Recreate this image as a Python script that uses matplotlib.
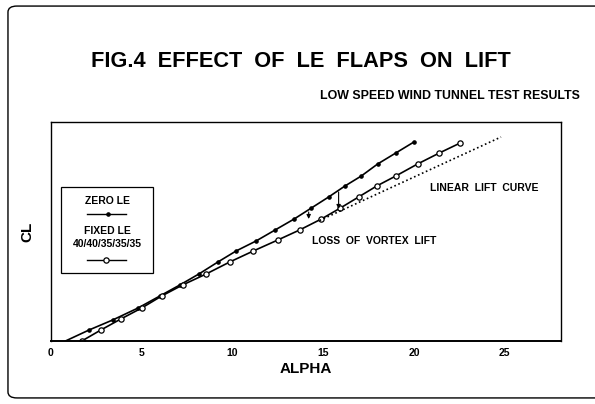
import matplotlib
matplotlib.use('Agg')
import matplotlib.pyplot as plt
from matplotlib.patches import FancyBboxPatch, Rectangle
from matplotlib.lines import Line2D

plt.rcParams['font.family'] = ['Liberation Sans', 'DejaVu Sans']
plt.rcParams['font.weight'] = 'bold'

# values (CL in arbitrary units, no scale on the original)
zero_alpha = [0.8, 2.1, 3.4, 4.8, 6.0, 7.1, 8.15, 9.2, 10.2, 11.3, 12.35,
              13.4, 14.35, 15.3, 16.2, 17.1, 18.0, 19.0, 20.0]
zero_cl = [0.0, 0.055, 0.105, 0.165, 0.225, 0.28, 0.335, 0.395, 0.45, 0.50,
           0.555, 0.61, 0.665, 0.72, 0.775, 0.825, 0.885, 0.94, 0.995]

fixed_alpha = [1.7, 2.75, 3.85, 5.0, 6.1, 7.25, 8.55, 9.85, 11.15, 12.5, 13.7,
               14.9, 15.95, 16.95, 17.95, 19.0, 20.2, 21.4, 22.55]
fixed_cl = [0.0, 0.055, 0.11, 0.165, 0.225, 0.28, 0.335, 0.395, 0.45, 0.505,
            0.555, 0.61, 0.665, 0.72, 0.775, 0.825, 0.885, 0.94, 0.99]

linear_alpha = [14.8, 24.8]
linear_cl = [0.6025, 1.02]

# vortex lift loss arrows: (alpha, from, to)
arrows = [(14.2, 0.645, 0.61), (15.85, 0.745, 0.66)]

x_ticks = [0, 5, 10, 15, 20, 25]

fig = plt.figure(figsize=(5.95, 4.04), dpi=100)
ax = fig.add_axes([0.0857, 0.156, 0.857, 0.542])

ax.plot(zero_alpha, zero_cl, color='black', lw=1.2, marker='o', ms=2.3,
        markevery=list(range(1, len(zero_alpha))))
ax.plot(fixed_alpha, fixed_cl, color='black', lw=1.2, marker='o', ms=3.8,
        mfc='white', mec='black', mew=0.9)
ax.plot(linear_alpha, linear_cl, color='black', lw=1.2, ls=(0, (1, 1.6)))

for a, y0, y1 in arrows:
    ax.annotate('', xy=(a, y1), xytext=(a, y0),
                arrowprops=dict(arrowstyle='-|>', color='black', lw=0.8,
                                mutation_scale=6, shrinkA=0, shrinkB=0))

ax.text(20.9, 0.765, 'LINEAR  LIFT  CURVE', fontsize=7.5, va='center', ha='left')
ax.text(14.4, 0.50, 'LOSS  OF  VORTEX  LIFT', fontsize=7.5, va='center', ha='left')

ax.set_xlim(0, 28.1)
ax.set_ylim(0, 1.095)
ax.set_xticks(x_ticks)
ax.set_xticklabels([str(t) for t in x_ticks], fontsize=7.5, fontweight='bold')
ax.set_yticks([])
ax.tick_params(axis='x', length=0, pad=5)
for s in ax.spines.values():
    s.set_linewidth(1.0)
ax.spines['bottom'].set_linewidth(1.4)

ax.set_xlabel('ALPHA', fontsize=11, fontweight='bold', labelpad=3)
ax.set_ylabel('CL', fontsize=11, fontweight='bold', labelpad=12)

# legend box drawn by hand
ax.add_patch(Rectangle((0.0196, 0.31), 0.18, 0.393, transform=ax.transAxes,
                       fill=False, lw=0.9, color='black'))
ax.text(0.110, 0.639, 'ZERO LE', transform=ax.transAxes, fontsize=7.5,
        ha='center', va='center')
ax.add_line(Line2D([0.0706, 0.147], [0.58, 0.58], transform=ax.transAxes,
                   color='black', lw=1.0))
ax.add_line(Line2D([0.112], [0.58], transform=ax.transAxes, color='black',
                   marker='o', ms=2.3))
ax.text(0.110, 0.502, 'FIXED LE', transform=ax.transAxes, fontsize=7.5,
        ha='center', va='center')
ax.text(0.110, 0.443, '40/40/35/35/35', transform=ax.transAxes, fontsize=7.5,
        ha='center', va='center')
ax.add_line(Line2D([0.0706, 0.147], [0.37, 0.37], transform=ax.transAxes,
                   color='black', lw=1.0))
ax.add_line(Line2D([0.108], [0.37], transform=ax.transAxes, color='black',
                   marker='o', ms=3.8, mfc='white', mew=0.9))

fig.text(0.506, 0.849, 'FIG.4  EFFECT  OF  LE  FLAPS  ON  LIFT', fontsize=15.7,
         ha='center', va='center', fontweight='bold')
fig.text(0.9745, 0.762, 'LOW SPEED WIND TUNNEL TEST RESULTS', fontsize=8.9,
         ha='right', va='center', fontweight='bold')

# outer rounded frame
frame = FancyBboxPatch((0.0134, 0.015), 1.1, 0.97, transform=fig.transFigure,
                       boxstyle='round,pad=0,rounding_size=0.015',
                       fill=False, lw=1.0, ec='black')
fig.add_artist(frame)

fig.savefig('out.png', dpi=100)
